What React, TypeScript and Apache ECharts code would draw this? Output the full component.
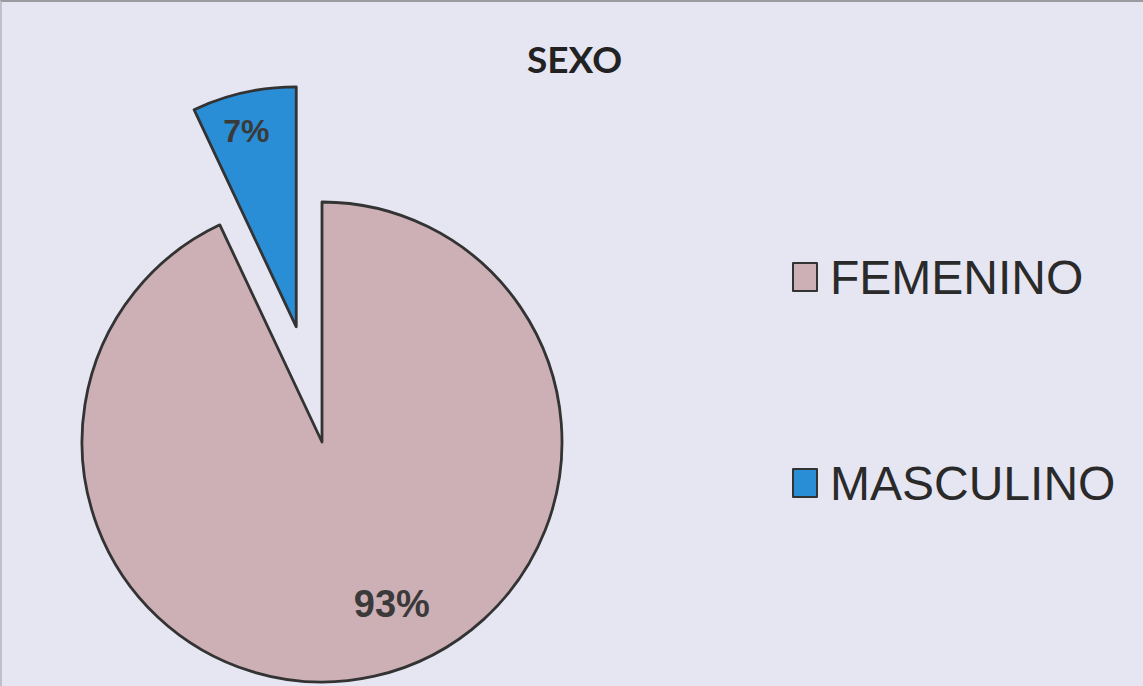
import React, { useEffect, useRef } from "react";
import * as echarts from "echarts";

const categories = ["FEMENINO", "MASCULINO"];
const values = [93, 7];
const colors = ["#cdb0b5", "#2a8ed6"];
const titleText = "SEXO";

export default function App() {
  const ref = useRef<HTMLDivElement>(null);
  useEffect(() => {
    if (!ref.current) return;
    const chart = echarts.init(ref.current, undefined, { renderer: "svg" });
    const labelShift = [
      [43, 42],
      [-23, -76],
    ];
    chart.setOption({
      animation: false,
      backgroundColor: "#e5e6f2",
      title: {
        text: titleText,
        left: 525,
        top: 38,
        padding: 0,
        textStyle: { fontFamily: "Lato", fontWeight: "bold", fontSize: 37, color: "#222" },
      },
      legend: {
        orient: "vertical",
        left: 790,
        top: 251,
        padding: 0,
        itemGap: 158,
        itemWidth: 24,
        itemHeight: 28,
        icon: "rect",
        itemStyle: { borderColor: "#333", borderWidth: 2 },
        textStyle: { fontFamily: "Liberation Sans", fontSize: 48, color: "#2a2a2a", padding: [0, 0, 0, 8] },
        data: categories,
      },
      series: [
        {
          type: "pie",
          center: [320, 440],
          radius: 240,
          startAngle: 90,
          clockwise: true,
          selectedMode: "single",
          selectedOffset: 118,
          itemStyle: { borderColor: "#333", borderWidth: 2.8 },
          label: {
            position: "inside",
            formatter: "{d}%",
            fontFamily: "Liberation Sans",
            fontWeight: "bold",
            color: "#3a3a3a",
          },
          labelLayout: (p: any) => ({ dx: labelShift[p.dataIndex][0], dy: labelShift[p.dataIndex][1] }),
          emphasis: { disabled: true },
          data: categories.map((c, i) => ({
            name: c,
            value: values[i],
            selected: i === 1,
            itemStyle: { color: colors[i] },
            label: { fontSize: i === 0 ? 38 : 32 },
          })),
        },
      ],
    });
    return () => chart.dispose();
  }, []);
  return (
    <div
      ref={ref}
      style={{ position: "fixed", left: 0, top: 0, width: 1143, height: 686, borderTop: "2px solid #9a9aa0", borderLeft: "2px solid #c0c0c8", boxSizing: "border-box" }}
    />
  );
}
